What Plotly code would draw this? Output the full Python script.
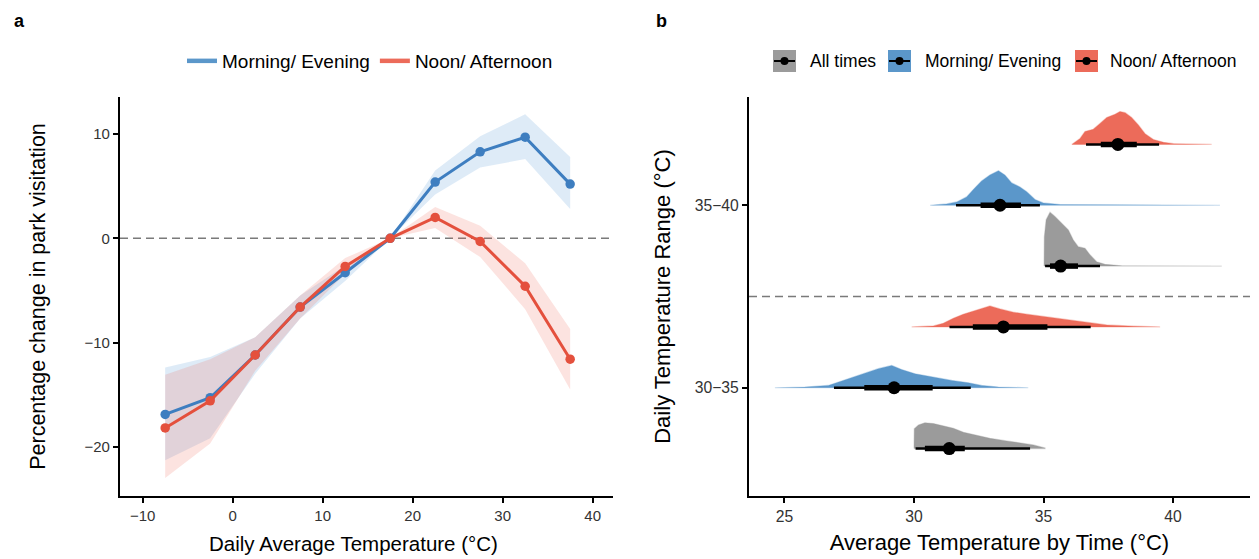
import plotly.graph_objects as go

W, H = 1259, 559
OFF = 8  # default page margin of the html body
FW, FH = W - OFF, H - OFF

# ---------------- Panel a data ----------------
temp_bins = [-7.5, -2.5, 2.5, 7.5, 12.5, 17.5, 22.5, 27.5, 32.5, 37.5]
me_change = [-16.9, -15.3, -11.2, -6.6, -3.3, 0.0, 5.4, 8.3, 9.7, 5.2]
me_lower = [-21.3, -19.2, -13.0, -7.7, -4.1, 0.0, 4.2, 6.8, 7.6, 2.8]
me_upper = [-12.4, -11.4, -9.5, -5.5, -2.6, 0.0, 6.5, 9.8, 11.9, 7.8]
na_change = [-18.2, -15.6, -11.2, -6.6, -2.7, 0.0, 2.0, -0.3, -4.6, -11.6]
na_lower = [-23.0, -19.7, -12.7, -7.7, -3.4, 0.0, 1.0, -1.8, -6.8, -14.5]
na_upper = [-13.1, -11.6, -9.5, -5.5, -1.9, 0.0, 3.0, 1.2, -2.4, -8.7]

# ---------------- Panel b data ----------------
ranges = ["30−35", "35−40"]
times = ["All times", "Morning/ Evening", "Noon/ Afternoon"]

dens_x = {
    ("35−40", "Noon/ Afternoon"): [36.09, 36.41, 36.60, 36.92, 37.18, 37.44, 37.76, 37.95, 38.15, 38.40, 38.66, 38.92, 39.24, 39.63, 40.02, 41.49],
    ("35−40", "Morning/ Evening"): [30.62, 31.26, 31.65, 32.03, 32.29, 32.61, 32.93, 33.26, 33.51, 33.77, 34.09, 34.35, 34.67, 34.99, 35.64, 38.21, 41.81],
    ("35−40", "All times"): [35.02, 35.03, 35.10, 35.25, 35.44, 35.70, 35.96, 36.15, 36.34, 36.60, 36.80, 37.05, 37.37, 38.02, 41.88],
    ("30−35", "Noon/ Afternoon"): [29.91, 30.75, 31.13, 31.52, 31.90, 32.42, 32.93, 33.32, 33.83, 34.35, 34.99, 35.76, 36.54, 37.44, 38.47, 39.50],
    ("30−35", "Morning/ Evening"): [24.63, 25.79, 26.69, 27.08, 27.59, 28.11, 28.62, 29.14, 29.52, 30.04, 30.68, 31.46, 32.10, 32.61, 33.26, 34.41],
    ("30−35", "All times"): [30.00, 30.01, 30.17, 30.42, 30.75, 31.13, 31.52, 31.91, 32.42, 32.93, 33.58, 34.22, 34.61, 35.06],
}
dens_y = {
    ("35−40", "Noon/ Afternoon"): [0, 11, 24, 28, 39, 50, 56, 61, 59, 50, 36, 20, 9, 4, 1.3, 0.4],
    ("35−40", "Morning/ Evening"): [0, 2.4, 6.1, 15.5, 29, 45, 56, 64, 56, 41.5, 34, 25, 10.6, 4.3, 1.3, 0.6, 0.2],
    ("35−40", "All times"): [0, 54, 86, 100, 92, 79.5, 67, 48.4, 36, 33, 20.5, 8, 3.2, 0.6, 0.2],
    ("30−35", "Noon/ Afternoon"): [0, 1.9, 6.9, 16.2, 23.6, 31.7, 39, 33.5, 27.4, 23.6, 19.2, 14.3, 8.8, 3.7, 1.3, 0.4],
    ("30−35", "Morning/ Evening"): [0, 1.3, 4.3, 10.6, 19.9, 28, 35.4, 41.5, 34, 26, 19.9, 13.6, 9.3, 4.3, 1.3, 0.4],
    ("30−35", "All times"): [0, 36.7, 44, 48, 46.5, 42.8, 37.8, 30.4, 24.2, 19.2, 14.3, 9.9, 6.9, 1.3],
}
median = {
    ("35−40", "Noon/ Afternoon"): 37.87, ("35−40", "Morning/ Evening"): 33.32, ("35−40", "All times"): 35.66,
    ("30−35", "Noon/ Afternoon"): 33.45, ("30−35", "Morning/ Evening"): 29.23, ("30−35", "All times"): 31.36,
}
ci66 = {
    ("35−40", "Noon/ Afternoon"): [37.21, 38.60], ("35−40", "Morning/ Evening"): [32.57, 34.13], ("35−40", "All times"): [35.25, 36.33],
    ("30−35", "Noon/ Afternoon"): [32.27, 35.15], ("30−35", "Morning/ Evening"): [28.08, 30.72], ("30−35", "All times"): [30.42, 31.96],
}
ci95 = {
    ("35−40", "Noon/ Afternoon"): [36.64, 39.46], ("35−40", "Morning/ Evening"): [31.62, 34.86], ("35−40", "All times"): [35.06, 37.18],
    ("30−35", "Noon/ Afternoon"): [31.37, 36.82], ("30−35", "Morning/ Evening"): [26.91, 32.19], ("30−35", "All times"): [30.06, 34.48],
}

# ---------------- styles ----------------
FONT = "Liberation Sans, Arial, sans-serif"
BLUE_LINE = "#3E7EC0"
RED_LINE = "#E4503D"
BLUE_LEG = "#5B97CA"
RED_LEG = "#EC6B5A"
BLUE_RIB = "rgba(91,155,213,0.20)"
RED_RIB = "rgba(238,100,85,0.18)"
SLAB = {"All times": "#9B9B9B", "Morning/ Evening": "#5B97CA", "Noon/ Afternoon": "#EC6B5A"}
SLAB_EDGE = {"All times": "rgba(155,155,155,0.35)", "Morning/ Evening": "rgba(91,151,202,0.35)",
             "Noon/ Afternoon": "rgba(236,107,90,0.35)"}
DODGE = {"All times": -1 / 3, "Morning/ Evening": 0.0, "Noon/ Afternoon": 1 / 3}
SLAB_SCALE = 0.295 / 100.0

fig = go.Figure()

# ---- Panel a ----
fig.add_trace(go.Scatter(x=temp_bins + temp_bins[::-1], y=me_upper + me_lower[::-1],
                         fill="toself", fillcolor=BLUE_RIB, line=dict(width=0),
                         mode="lines", hoverinfo="skip", showlegend=False, xaxis="x", yaxis="y"))
fig.add_trace(go.Scatter(x=temp_bins + temp_bins[::-1], y=na_upper + na_lower[::-1],
                         fill="toself", fillcolor=RED_RIB, line=dict(width=0),
                         mode="lines", hoverinfo="skip", showlegend=False, xaxis="x", yaxis="y"))
fig.add_trace(go.Scatter(x=temp_bins, y=me_change, mode="lines+markers", name="Morning/ Evening",
                         line=dict(color=BLUE_LINE, width=3), marker=dict(size=9.5, color=BLUE_LINE),
                         xaxis="x", yaxis="y", showlegend=False))
fig.add_trace(go.Scatter(x=temp_bins, y=na_change, mode="lines+markers", name="Noon/ Afternoon",
                         line=dict(color=RED_LINE, width=3), marker=dict(size=9.5, color=RED_LINE),
                         xaxis="x", yaxis="y", showlegend=False))
# legend-only entries (line keys)
fig.add_trace(go.Scatter(x=[None], y=[None], mode="lines", name="Morning/ Evening",
                         line=dict(color=BLUE_LEG, width=4.5), xaxis="x", yaxis="y"))
fig.add_trace(go.Scatter(x=[None], y=[None], mode="lines", name="Noon/ Afternoon",
                         line=dict(color=RED_LEG, width=4.5), xaxis="x", yaxis="y"))

# ---- Panel b ----
for ri, r in enumerate(ranges):
    for t in times:
        key = (r, t)
        base = (ri + 1) + DODGE[t]
        xs = dens_x[key]
        ys = [base + d * SLAB_SCALE for d in dens_y[key]]
        fig.add_trace(go.Scatter(x=xs + [xs[-1], xs[0]], y=ys + [base, base], fill="toself",
                                 fillcolor=SLAB[t], line=dict(color=SLAB_EDGE[t], width=1.2),
                                 mode="lines", hoverinfo="skip", showlegend=False,
                                 xaxis="x2", yaxis="y2"))
        fig.add_trace(go.Scatter(x=ci95[key], y=[base, base], mode="lines",
                                 line=dict(color="black", width=2.5), showlegend=False,
                                 hoverinfo="skip", xaxis="x2", yaxis="y2"))
        fig.add_trace(go.Scatter(x=ci66[key], y=[base, base], mode="lines",
                                 line=dict(color="black", width=5.5), showlegend=False,
                                 hoverinfo="skip", xaxis="x2", yaxis="y2"))
        fig.add_trace(go.Scatter(x=[median[key]], y=[base], mode="markers",
                                 marker=dict(color="black", size=13), showlegend=False,
                                 xaxis="x2", yaxis="y2"))


def px(x):
    return (x - OFF) / FW


def py(y):
    return 1 - (y - OFF) / FH


axis_common = dict(showline=True, linecolor="black", linewidth=2.2, ticks="outside",
                   ticklen=5, tickwidth=1.5, tickcolor="black", showgrid=False, zeroline=False,
                   mirror=False)
TICK_A = dict(size=15, color="#333333", family=FONT)
TICK_B = dict(size=15.7, color="#333333", family=FONT)
TITLE_A = dict(size=20.5, color="black", family=FONT)
TITLE_AY = dict(size=21.5, color="black", family=FONT)
TITLE_B = dict(size=22, color="black", family=FONT)

fig.update_layout(
    width=FW, height=FH, margin=dict(l=0, r=0, t=0, b=0),
    paper_bgcolor="white", plot_bgcolor="white",
    font=dict(family=FONT, color="black"),
    xaxis=dict(domain=[px(120), px(613)], range=[-12.52, 42.26], tickvals=[-10, 0, 10, 20, 30, 40],
               tickfont=TICK_A, anchor="y", **axis_common),
    yaxis=dict(domain=[py(496), py(97)], range=[-24.73, 13.56], tickvals=[-20, -10, 0, 10],
               title=dict(text="Percentage change in park visitation", font=TITLE_AY, standoff=33),
               tickfont=TICK_A, anchor="x", **axis_common),
    xaxis2=dict(domain=[px(749), px(1250)], range=[23.63, 42.97], tickvals=[25, 30, 35, 40],
                title=dict(text="Average Temperature by Time (°C)", font=TITLE_B, standoff=11),
                tickfont=TICK_B, anchor="y2", **axis_common),
    yaxis2=dict(domain=[py(496), py(97)], range=[0.407, 2.593], tickvals=[1, 2], ticktext=ranges,
                title=dict(text="Daily Temperature Range (°C)", font=TITLE_B, standoff=18),
                tickfont=TICK_B, anchor="x2", **axis_common),
    legend=dict(orientation="h", x=px(182), y=py(61), xanchor="left", yanchor="middle",
                font=dict(size=19, color="black", family=FONT), bgcolor="rgba(0,0,0,0)",
                itemwidth=30, tracegroupgap=0),
    showlegend=True,
)

shapes = [
    dict(type="line", xref="x domain", yref="y", x0=0, x1=1, y0=0, y1=0,
         line=dict(color="#7A7A7A", width=1.5, dash="8px,5px"), layer="below"),
    dict(type="line", xref="x2 domain", yref="y2", x0=0, x1=1, y0=1.5, y1=1.5,
         line=dict(color="#7A7A7A", width=1.5, dash="8px,5px"), layer="below"),
]
annotations = [
    dict(text="<b>a</b>", x=px(12), y=py(21), xref="paper", yref="paper", xanchor="left", yanchor="middle",
         showarrow=False, font=dict(size=18, color="black", family=FONT)),
    dict(text="<b>b</b>", x=px(654), y=py(21), xref="paper", yref="paper", xanchor="left", yanchor="middle",
         showarrow=False, font=dict(size=18, color="black", family=FONT)),
    # x-axis title of panel a
    dict(text="Daily Average Temperature (°C)", x=px(353), y=py(543), xref="paper", yref="paper",
         xanchor="center", yanchor="middle", showarrow=False, font=TITLE_A),
]

# manual key for panel b
leg_items = [("All times", 773, 808), ("Morning/ Evening", 888, 923), ("Noon/ Afternoon", 1075, 1108)]
for name, bx, tx in leg_items:
    shapes.append(dict(type="rect", xref="paper", yref="paper", x0=px(bx), x1=px(bx + 23),
                       y0=py(72), y1=py(50), fillcolor=SLAB[name], line=dict(width=0)))
    shapes.append(dict(type="line", xref="paper", yref="paper", x0=px(bx + 1), x1=px(bx + 22),
                       y0=py(61), y1=py(61), line=dict(color="black", width=2)))
    shapes.append(dict(type="circle", xref="paper", yref="paper", x0=px(bx + 7.5), x1=px(bx + 15.5),
                       y0=py(65), y1=py(57), fillcolor="black", line=dict(width=0)))
    annotations.append(dict(text=name, x=px(tx), y=py(61), xref="paper", yref="paper",
                            xanchor="left", yanchor="middle", showarrow=False,
                            font=dict(size=17.5, color="black", family=FONT)))

fig.update_layout(shapes=shapes, annotations=annotations)

fig.write_html("out.html")
